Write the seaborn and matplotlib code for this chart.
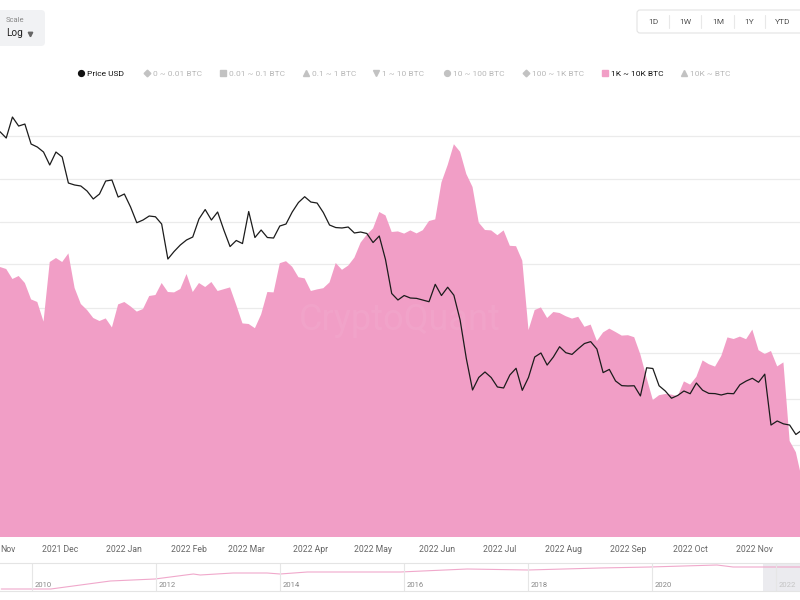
import numpy as np
import pandas as pd
import matplotlib
matplotlib.use("Agg")
import matplotlib.pyplot as plt
import matplotlib.dates as mdates
from matplotlib.patches import FancyBboxPatch
import seaborn as sns

# ---------------- data (3-day sampling) ----------------
start_date = "2021-11-02"
step_days = 3

price_usd = [63470, 61650, 67910, 65150, 65750, 59970, 59150, 57800, 54450, 57800,
             56490, 50110, 49660, 49430, 48300, 46560, 47640, 50580, 50810, 46980,
             47640, 44870, 41740, 42260, 43050, 42900, 41490, 35310, 36560, 37670,
             38550, 39080, 42460, 44350, 42260, 43850, 40360, 37400, 38460, 37920,
             43950, 38990, 40360, 38990, 38900, 41110, 41490, 43850, 45810, 47050,
             45910, 45700, 43750, 41300, 40820, 40740, 40920, 39810, 39990, 39720,
             38100, 39260, 35230, 30130, 29240, 29850, 29510, 29460, 29240, 29010,
             31430, 29850, 31010, 29890, 26670, 22330, 19320, 20470, 20990, 20460,
             19590, 19500, 20700, 21350, 19290, 20470, 22490, 22910, 21670, 22490,
             23580, 22940, 22760, 23360, 23930, 24140, 23330, 20930, 21240, 20140,
             19710, 19680, 19700, 18800, 21400, 21330, 19700, 19230, 18600, 18840,
             19230, 18990, 19950, 19300, 19020, 19000, 18880, 19020, 18990, 19790,
             20130, 20390, 20020, 20780, 16440, 16750, 16530, 16440, 15740, 16070]

band_1k_10k = [2066.5, 2065.5, 2060.5, 2062, 2058.5, 2050.3, 2049, 2039.2, 2069, 2071,
               2069, 2073.3, 2056, 2048, 2045, 2041, 2039.5, 2040.8, 2036.3, 2047.8,
               2049, 2046.8, 2044.2, 2045.5, 2052, 2052.5, 2058.5, 2054, 2053.8, 2055.5,
               2063, 2054, 2058.5, 2056.5, 2059, 2054.5, 2055.4, 2056.3, 2047.5, 2038.3,
               2038, 2035.9, 2042.8, 2054, 2053.8, 2068.4, 2069.4, 2066.6, 2061.4, 2060.8,
               2054.5, 2055.3, 2055.9, 2058.8, 2068.5, 2065.1, 2067.2, 2071.2, 2078.7, 2082.7,
               2085.8, 2094, 2092.3, 2084, 2084.3, 2083.2, 2084.8, 2083.3, 2084.9, 2089.5,
               2090.3, 2108.8, 2117.5, 2127.9, 2124.1, 2113, 2106.5, 2088.7, 2085, 2084.8,
               2082.4, 2084.8, 2077.1, 2076.9, 2069.7, 2035, 2045, 2046.3, 2041, 2044,
               2043.5, 2041.9, 2040.7, 2041.6, 2036.6, 2037.7, 2029.5, 2033.8, 2035.7, 2034,
               2032.2, 2032.4, 2031.4, 2022.7, 2011, 2000, 2002.4, 2003, 2002.7, 2001.9,
               2009.3, 2007.7, 2011.6, 2019.8, 2017.9, 2016.7, 2022, 2031.3, 2030.5, 2031.7,
               2030.4, 2035.2, 2024.9, 2023, 2024.5, 2016.8, 2018.8, 1979.5, 1973.9, 1960]

# navigator (full history overview)
nav_year = [2009.5, 2010.3, 2011.26, 2011.98, 2012.6, 2012.71, 2013.24, 2013.79, 2014.0,
            2014.44, 2015.13, 2015.94, 2017.02, 2018.0, 2019.16, 2019.97, 2021.05,
            2021.31, 2021.74, 2022.4]
nav_value = [0, 0, 720, 900, 1350, 1260, 1440, 1440, 1350,
             1530, 1530, 1530, 1800, 1710, 1890, 1980, 2160,
             1980, 1980, 1980]
nav_years_labels = [2010, 2012, 2014, 2016, 2018, 2020, 2022]

legend_items = ["Price USD", "0 ~ 0.01 BTC", "0.01 ~ 0.1 BTC", "0.1 ~ 1 BTC",
                "1 ~ 10 BTC", "10 ~ 100 BTC", "100 ~ 1K BTC", "1K ~ 10K BTC", "10K ~ BTC"]
range_buttons = ["1D", "1W", "1M", "1Y", "YTD"]

# ---------------- build ----------------
dates = pd.date_range(start_date, periods=len(price_usd), freq=f"{step_days}D")
df = pd.DataFrame({"date": dates, "price": price_usd, "band": band_1k_10k})

sns.set_theme(style="white")
plt.rcParams["font.family"] = ["Roboto", "DejaVu Sans"]

PINK = "#F19EC6"
fig = plt.figure(figsize=(8, 6), dpi=100)

ax = fig.add_axes([0, 63 / 600, 1, 442 / 600])
band_lo, band_hi = 1931.5, 2152.5
ax.fill_between(df["date"], band_lo, df["band"], color=PINK, lw=0, zorder=2)
ax.set_ylim(band_lo, band_hi)
ax.set_xlim(pd.Timestamp("2021-11-02"), pd.Timestamp("2022-11-23"))
grid_vals = [1954.5, 1977.5, 2000.5, 2023.5, 2046, 2068, 2089, 2110.5, 2132]
ax.set_yticks(grid_vals)
ax.set_yticklabels([])
ax.grid(axis="y", color="#ebebeb", lw=0.9, zorder=0)
ax.grid(axis="x", visible=False)
ax.set_axisbelow(True)
ax.tick_params(axis="y", length=0)
ax.xaxis.set_major_locator(mdates.MonthLocator())
ax.xaxis.set_major_formatter(mdates.DateFormatter("%Y %b"))
ax.tick_params(axis="x", length=0, pad=6, labelsize=6.2, labelcolor="#666666")
for s in ax.spines.values():
    s.set_visible(False)
ax.set_xlabel("")
ax.set_ylabel("")
ax.text(0.5, 0.49, "CryptoQuant", transform=ax.transAxes, ha="center", va="center",
        fontsize=26, color="white", alpha=0.06, zorder=3)
# first month label, only its tail visible at the left edge
ax.text(0.5 / 800, -8.4 / 442, "Nov", transform=ax.transAxes, ha="left", va="top",
        fontsize=6.2, color="#666666", clip_on=False)

ax2 = ax.twinx()
sns.lineplot(data=df, x="date", y="price", ax=ax2, color="#1c1c1c", lw=0.9)
ax2.set_yscale("log")
ax2.set_ylim(9817, 75160)
ax2.set_xlim(pd.Timestamp("2021-11-02"), pd.Timestamp("2022-11-23"))
ax2.tick_params(which="both", right=False, labelright=False, left=False, labelleft=False)
ax2.yaxis.set_minor_locator(matplotlib.ticker.NullLocator())
ax2.set_yticks([])
ax2.set_ylabel("")
ax2.grid(False)
for s in ax2.spines.values():
    s.set_visible(False)

# ---------------- navigator ----------------
axn = fig.add_axes([0, 9 / 600, 1, 28 / 600])
axn.set_xlim(2009.48, 2022.39)
axn.set_ylim(-180, 2340)
axn.axvspan(2010 + (763 - 32) / 62, 2022.39, color="#ebebef", lw=0)
sns.lineplot(x=nav_year, y=nav_value, ax=axn, color="#F0A8CB", lw=0.8)
for yr in nav_years_labels:
    axn.axvline(yr, color="#e6e6e6", lw=0.8)
    axn.text(yr + 0.04, 0.2, str(yr), transform=axn.get_xaxis_transform(),
             fontsize=5.5, color="#c4c4c4" if yr == 2022 else "#888888", va="center")
axn.set_xticks([])
axn.set_yticks([])
axn.set_xlabel("")
axn.set_ylabel("")
for k, s in axn.spines.items():
    s.set_visible(k in ("top", "bottom"))
    s.set_color("#e4e4e4")
    s.set_linewidth(0.8)

# ---------------- UI overlay (scale box, range buttons, legend) ----------------
ui = fig.add_axes([0, 0, 1, 1], zorder=10)
ui.set_xlim(0, 800)
ui.set_ylim(600, 0)
ui.axis("off")
ui.patch.set_alpha(0)

ui.add_patch(FancyBboxPatch((-6, 10), 51, 36, boxstyle="round,pad=0,rounding_size=4",
                            fc="#f1f2f4", ec="none"))
ui.text(6, 20, "Scale", fontsize=5.5, color="#888888", va="center")
ui.text(6, 33, "Log", fontsize=7.2, color="#222222", va="center")
ui.plot([30], [34], marker="v", ms=3.2, color="#666666", ls="none")

ui.add_patch(FancyBboxPatch((637, 10), 175, 23, boxstyle="round,pad=0,rounding_size=3",
                            fc="white", ec="#e3e3e3", lw=0.8))
btn_x = [653, 685, 718, 749, 783]
for bx, lab in zip(btn_x, range_buttons):
    ui.text(bx, 21.5, lab, fontsize=6, color="#555555", ha="center", va="center")
for sx in [669, 701, 734, 765]:
    ui.plot([sx, sx], [15, 28], color="#e8e8e8", lw=0.8)

leg_marker_x = [81, 147, 223, 306, 376, 447, 526, 605, 684]
leg_markers = ["o", "D", "s", "^", "v", "o", "D", "s", "^"]
for i, (mx, mk, lab) in enumerate(zip(leg_marker_x, leg_markers, legend_items)):
    if i == 0:
        mc, tc = "#111111", "#111111"
    elif lab == "1K ~ 10K BTC":
        mc, tc = PINK, "#111111"
    else:
        mc, tc = "#c2c2c2", "#b8b8b8"
    ms = 4.2 if mk in ("o", "s") else 4.0
    if mk == "D":
        ms = 3.4
    ui.plot([mx], [73], marker=mk, ms=ms, color=mc, ls="none")
    ui.text(mx + 6, 73.5, lab, fontsize=6, color=tc, va="center")

fig.savefig("out.png", dpi=100)
